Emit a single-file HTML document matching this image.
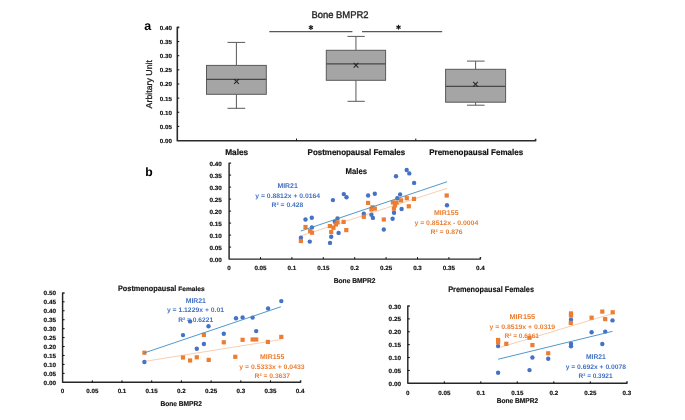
<!DOCTYPE html>
<html><head><meta charset="utf-8"><title>Bone BMPR2</title>
<style>
html,body{margin:0;padding:0;background:#fff;}
body{width:685px;height:420px;overflow:hidden;}
svg{display:block;font-family:"Liberation Sans", sans-serif;filter:blur(0.45px);text-rendering:geometricPrecision;}
</style></head>
<body>
<svg width="685" height="420" viewBox="0 0 685 420">
<rect width="685" height="420" fill="#fff"/>
<text x="144.2" y="29.9" font-size="12.5" font-weight="bold" fill="#000" text-anchor="start">a</text>
<text x="311.4" y="18.2" font-size="9.7" stroke="#262626" stroke-width="0.35" fill="#262626" text-anchor="start" textLength="57.2" lengthAdjust="spacingAndGlyphs">Bone BMPR2</text>
<path d="M179.3 27.4 L177.3 27.4 L177.3 140.7 L535.6 140.7 L535.6 138.7" fill="none" stroke="#2b2b2b" stroke-width="1.6" stroke-linejoin="round"/>
<text x="171.9" y="142.9" font-size="5.9" font-weight="bold" stroke="#111" stroke-width="0.15" fill="#111" text-anchor="end" textLength="12.2" lengthAdjust="spacingAndGlyphs">0.00</text>
<line x1="177.3" y1="126.37" x2="179.3" y2="126.37" stroke="#0d0d0d" stroke-width="1"/>
<text x="171.9" y="128.77" font-size="5.9" font-weight="bold" stroke="#111" stroke-width="0.15" fill="#111" text-anchor="end" textLength="12.2" lengthAdjust="spacingAndGlyphs">0.05</text>
<line x1="177.3" y1="112.24" x2="179.3" y2="112.24" stroke="#0d0d0d" stroke-width="1"/>
<text x="171.9" y="114.64" font-size="5.9" font-weight="bold" stroke="#111" stroke-width="0.15" fill="#111" text-anchor="end" textLength="12.2" lengthAdjust="spacingAndGlyphs">0.10</text>
<line x1="177.3" y1="98.11" x2="179.3" y2="98.11" stroke="#0d0d0d" stroke-width="1"/>
<text x="171.9" y="100.51" font-size="5.9" font-weight="bold" stroke="#111" stroke-width="0.15" fill="#111" text-anchor="end" textLength="12.2" lengthAdjust="spacingAndGlyphs">0.15</text>
<line x1="177.3" y1="83.97999999999999" x2="179.3" y2="83.97999999999999" stroke="#0d0d0d" stroke-width="1"/>
<text x="171.9" y="86.38" font-size="5.9" font-weight="bold" stroke="#111" stroke-width="0.15" fill="#111" text-anchor="end" textLength="12.2" lengthAdjust="spacingAndGlyphs">0.20</text>
<line x1="177.3" y1="69.85" x2="179.3" y2="69.85" stroke="#0d0d0d" stroke-width="1"/>
<text x="171.9" y="72.25" font-size="5.9" font-weight="bold" stroke="#111" stroke-width="0.15" fill="#111" text-anchor="end" textLength="12.2" lengthAdjust="spacingAndGlyphs">0.25</text>
<line x1="177.3" y1="55.72" x2="179.3" y2="55.72" stroke="#0d0d0d" stroke-width="1"/>
<text x="171.9" y="58.12" font-size="5.9" font-weight="bold" stroke="#111" stroke-width="0.15" fill="#111" text-anchor="end" textLength="12.2" lengthAdjust="spacingAndGlyphs">0.30</text>
<line x1="177.3" y1="41.58999999999999" x2="179.3" y2="41.58999999999999" stroke="#0d0d0d" stroke-width="1"/>
<text x="171.9" y="43.98999999999999" font-size="5.9" font-weight="bold" stroke="#111" stroke-width="0.15" fill="#111" text-anchor="end" textLength="12.2" lengthAdjust="spacingAndGlyphs">0.35</text>
<text x="171.9" y="29.859999999999992" font-size="5.9" font-weight="bold" stroke="#111" stroke-width="0.15" fill="#111" text-anchor="end" textLength="12.2" lengthAdjust="spacingAndGlyphs">0.40</text>
<line x1="296.5" y1="140.7" x2="296.5" y2="138.6" stroke="#0d0d0d" stroke-width="1"/>
<line x1="415.8" y1="140.7" x2="415.8" y2="138.6" stroke="#0d0d0d" stroke-width="1"/>
<text transform="translate(152.0,84.2) rotate(-90)" font-size="8.6" fill="#222222" stroke="#222222" stroke-width="0.3" text-anchor="middle" textLength="48.4" lengthAdjust="spacingAndGlyphs">Arbitary Unit</text>
<text x="225.2" y="154.8" font-size="8.4" font-weight="bold" stroke="#111" stroke-width="0.2" fill="#111" text-anchor="start" textLength="23.0" lengthAdjust="spacingAndGlyphs">Males</text>
<text x="307.6" y="154.8" font-size="8.4" font-weight="bold" stroke="#111" stroke-width="0.2" fill="#111" text-anchor="start" textLength="97.6" lengthAdjust="spacingAndGlyphs">Postmenopausal Females</text>
<text x="429.2" y="154.8" font-size="8.4" font-weight="bold" stroke="#111" stroke-width="0.2" fill="#111" text-anchor="start" textLength="93.9" lengthAdjust="spacingAndGlyphs">Premenopausal Females</text>
<line x1="269.3" y1="31.7" x2="352.4" y2="31.7" stroke="#595959" stroke-width="1.3"/>
<line x1="362.0" y1="31.7" x2="442.2" y2="31.7" stroke="#595959" stroke-width="1.3"/>
<line x1="310.9" y1="25.1" x2="310.9" y2="29.9" stroke="#1a1a1a" stroke-width="1.15"/>
<line x1="308.82" y1="26.3" x2="312.98" y2="28.7" stroke="#1a1a1a" stroke-width="1.15"/>
<line x1="312.98" y1="26.3" x2="308.82" y2="28.7" stroke="#1a1a1a" stroke-width="1.15"/>
<line x1="398.5" y1="24.8" x2="398.5" y2="29.6" stroke="#1a1a1a" stroke-width="1.15"/>
<line x1="396.42" y1="26.0" x2="400.58" y2="28.4" stroke="#1a1a1a" stroke-width="1.15"/>
<line x1="400.58" y1="26.0" x2="396.42" y2="28.4" stroke="#1a1a1a" stroke-width="1.15"/>
<line x1="236.4" y1="42.4" x2="236.4" y2="65.4" stroke="#595959" stroke-width="1"/>
<line x1="236.4" y1="94.3" x2="236.4" y2="108.3" stroke="#595959" stroke-width="1"/>
<line x1="227.5" y1="42.4" x2="245.2" y2="42.4" stroke="#595959" stroke-width="1"/>
<line x1="227.5" y1="108.3" x2="245.2" y2="108.3" stroke="#595959" stroke-width="1"/>
<rect x="206.5" y="65.4" width="59.80000000000001" height="28.89999999999999" fill="#A5A5A5" stroke="#595959" stroke-width="1"/>
<line x1="206.5" y1="79.3" x2="266.3" y2="79.3" stroke="#484848" stroke-width="1.15"/>
<line x1="234.15" y1="79.15" x2="238.85" y2="83.85" stroke="#262626" stroke-width="1.05"/>
<line x1="234.15" y1="83.85" x2="238.85" y2="79.15" stroke="#262626" stroke-width="1.05"/>
<line x1="355.95000000000005" y1="36.4" x2="355.95000000000005" y2="50.3" stroke="#595959" stroke-width="1"/>
<line x1="355.95000000000005" y1="80.3" x2="355.95000000000005" y2="101.3" stroke="#595959" stroke-width="1"/>
<line x1="347.5" y1="36.4" x2="364.8" y2="36.4" stroke="#595959" stroke-width="1"/>
<line x1="347.5" y1="101.3" x2="364.8" y2="101.3" stroke="#595959" stroke-width="1"/>
<rect x="326.3" y="50.3" width="59.30000000000001" height="30.0" fill="#A5A5A5" stroke="#595959" stroke-width="1"/>
<line x1="326.3" y1="63.8" x2="385.6" y2="63.8" stroke="#484848" stroke-width="1.15"/>
<line x1="353.65" y1="62.949999999999996" x2="358.35" y2="67.64999999999999" stroke="#262626" stroke-width="1.05"/>
<line x1="353.65" y1="67.64999999999999" x2="358.35" y2="62.949999999999996" stroke="#262626" stroke-width="1.05"/>
<line x1="475.6" y1="61.1" x2="475.6" y2="69.3" stroke="#595959" stroke-width="1"/>
<line x1="475.6" y1="102.2" x2="475.6" y2="105.2" stroke="#595959" stroke-width="1"/>
<line x1="467.0" y1="61.1" x2="484.6" y2="61.1" stroke="#595959" stroke-width="1"/>
<line x1="467.0" y1="105.2" x2="484.6" y2="105.2" stroke="#595959" stroke-width="1"/>
<rect x="445.6" y="69.3" width="60.0" height="32.900000000000006" fill="#A5A5A5" stroke="#595959" stroke-width="1"/>
<line x1="445.6" y1="86.4" x2="505.6" y2="86.4" stroke="#484848" stroke-width="1.15"/>
<line x1="473.15" y1="81.95" x2="477.85" y2="86.64999999999999" stroke="#262626" stroke-width="1.05"/>
<line x1="473.15" y1="86.64999999999999" x2="477.85" y2="81.95" stroke="#262626" stroke-width="1.05"/>
<text x="145.2" y="175.6" font-size="12.2" font-weight="bold" fill="#000" text-anchor="start">b</text>
<path d="M231.1 163.1 L229.1 163.1 L229.1 259.1 L480.4 259.1 L480.4 257.1" fill="none" stroke="#262626" stroke-width="1.45" stroke-linejoin="round"/>
<text x="221.9" y="261.6" font-size="6.0" font-weight="bold" stroke="#111" stroke-width="0.15" fill="#111" text-anchor="end" textLength="12.4" lengthAdjust="spacingAndGlyphs">0.00</text>
<line x1="229.1" y1="247.10000000000002" x2="231.1" y2="247.10000000000002" stroke="#0d0d0d" stroke-width="1"/>
<text x="221.9" y="249.60000000000002" font-size="6.0" font-weight="bold" stroke="#111" stroke-width="0.15" fill="#111" text-anchor="end" textLength="12.4" lengthAdjust="spacingAndGlyphs">0.05</text>
<line x1="229.1" y1="235.10000000000002" x2="231.1" y2="235.10000000000002" stroke="#0d0d0d" stroke-width="1"/>
<text x="221.9" y="237.60000000000002" font-size="6.0" font-weight="bold" stroke="#111" stroke-width="0.15" fill="#111" text-anchor="end" textLength="12.4" lengthAdjust="spacingAndGlyphs">0.10</text>
<line x1="229.1" y1="223.10000000000002" x2="231.1" y2="223.10000000000002" stroke="#0d0d0d" stroke-width="1"/>
<text x="221.9" y="225.60000000000002" font-size="6.0" font-weight="bold" stroke="#111" stroke-width="0.15" fill="#111" text-anchor="end" textLength="12.4" lengthAdjust="spacingAndGlyphs">0.15</text>
<line x1="229.1" y1="211.10000000000002" x2="231.1" y2="211.10000000000002" stroke="#0d0d0d" stroke-width="1"/>
<text x="221.9" y="213.60000000000002" font-size="6.0" font-weight="bold" stroke="#111" stroke-width="0.15" fill="#111" text-anchor="end" textLength="12.4" lengthAdjust="spacingAndGlyphs">0.20</text>
<line x1="229.1" y1="199.10000000000002" x2="231.1" y2="199.10000000000002" stroke="#0d0d0d" stroke-width="1"/>
<text x="221.9" y="201.60000000000002" font-size="6.0" font-weight="bold" stroke="#111" stroke-width="0.15" fill="#111" text-anchor="end" textLength="12.4" lengthAdjust="spacingAndGlyphs">0.25</text>
<line x1="229.1" y1="187.10000000000002" x2="231.1" y2="187.10000000000002" stroke="#0d0d0d" stroke-width="1"/>
<text x="221.9" y="189.60000000000002" font-size="6.0" font-weight="bold" stroke="#111" stroke-width="0.15" fill="#111" text-anchor="end" textLength="12.4" lengthAdjust="spacingAndGlyphs">0.30</text>
<line x1="229.1" y1="175.10000000000002" x2="231.1" y2="175.10000000000002" stroke="#0d0d0d" stroke-width="1"/>
<text x="221.9" y="177.60000000000002" font-size="6.0" font-weight="bold" stroke="#111" stroke-width="0.15" fill="#111" text-anchor="end" textLength="12.4" lengthAdjust="spacingAndGlyphs">0.35</text>
<text x="221.9" y="165.60000000000002" font-size="6.0" font-weight="bold" stroke="#111" stroke-width="0.15" fill="#111" text-anchor="end" textLength="12.4" lengthAdjust="spacingAndGlyphs">0.40</text>
<text x="229.1" y="270.3" font-size="6.0" font-weight="bold" stroke="#111" stroke-width="0.15" fill="#111" text-anchor="middle" textLength="3.47" lengthAdjust="spacingAndGlyphs">0</text>
<line x1="260.5" y1="259.1" x2="260.5" y2="257.1" stroke="#0d0d0d" stroke-width="1"/>
<text x="260.5" y="270.3" font-size="6.0" font-weight="bold" stroke="#111" stroke-width="0.15" fill="#111" text-anchor="middle" textLength="12.14" lengthAdjust="spacingAndGlyphs">0.05</text>
<line x1="291.9" y1="259.1" x2="291.9" y2="257.1" stroke="#0d0d0d" stroke-width="1"/>
<text x="291.9" y="270.3" font-size="6.0" font-weight="bold" stroke="#111" stroke-width="0.15" fill="#111" text-anchor="middle" textLength="8.67" lengthAdjust="spacingAndGlyphs">0.1</text>
<line x1="323.29999999999995" y1="259.1" x2="323.29999999999995" y2="257.1" stroke="#0d0d0d" stroke-width="1"/>
<text x="323.29999999999995" y="270.3" font-size="6.0" font-weight="bold" stroke="#111" stroke-width="0.15" fill="#111" text-anchor="middle" textLength="12.14" lengthAdjust="spacingAndGlyphs">0.15</text>
<line x1="354.7" y1="259.1" x2="354.7" y2="257.1" stroke="#0d0d0d" stroke-width="1"/>
<text x="354.7" y="270.3" font-size="6.0" font-weight="bold" stroke="#111" stroke-width="0.15" fill="#111" text-anchor="middle" textLength="8.67" lengthAdjust="spacingAndGlyphs">0.2</text>
<line x1="386.1" y1="259.1" x2="386.1" y2="257.1" stroke="#0d0d0d" stroke-width="1"/>
<text x="386.1" y="270.3" font-size="6.0" font-weight="bold" stroke="#111" stroke-width="0.15" fill="#111" text-anchor="middle" textLength="12.14" lengthAdjust="spacingAndGlyphs">0.25</text>
<line x1="417.5" y1="259.1" x2="417.5" y2="257.1" stroke="#0d0d0d" stroke-width="1"/>
<text x="417.5" y="270.3" font-size="6.0" font-weight="bold" stroke="#111" stroke-width="0.15" fill="#111" text-anchor="middle" textLength="8.67" lengthAdjust="spacingAndGlyphs">0.3</text>
<line x1="448.9" y1="259.1" x2="448.9" y2="257.1" stroke="#0d0d0d" stroke-width="1"/>
<text x="448.9" y="270.3" font-size="6.0" font-weight="bold" stroke="#111" stroke-width="0.15" fill="#111" text-anchor="middle" textLength="12.14" lengthAdjust="spacingAndGlyphs">0.35</text>
<text x="480.29999999999995" y="270.3" font-size="6.0" font-weight="bold" stroke="#111" stroke-width="0.15" fill="#111" text-anchor="middle" textLength="8.67" lengthAdjust="spacingAndGlyphs">0.4</text>
<text x="345.6" y="174.2" font-size="8.2" font-weight="bold" stroke="#111" stroke-width="0.15" fill="#111" text-anchor="start" textLength="21.5" lengthAdjust="spacingAndGlyphs">Males</text>
<text x="333.7" y="282.5" font-size="7.0" font-weight="bold" stroke="#111" stroke-width="0.15" fill="#111" text-anchor="start" textLength="41.8" lengthAdjust="spacingAndGlyphs">Bone BMPR2</text>
<circle cx="300.9" cy="237.8" r="2.2" fill="#4472C4"/>
<circle cx="305.5" cy="219.5" r="2.2" fill="#4472C4"/>
<circle cx="311.8" cy="217.8" r="2.2" fill="#4472C4"/>
<circle cx="311.9" cy="227.4" r="2.2" fill="#4472C4"/>
<circle cx="309.8" cy="241.6" r="2.2" fill="#4472C4"/>
<circle cx="337.5" cy="218.4" r="2.2" fill="#4472C4"/>
<circle cx="334.8" cy="221.8" r="2.2" fill="#4472C4"/>
<circle cx="338.6" cy="232.9" r="2.2" fill="#4472C4"/>
<circle cx="331.2" cy="236.7" r="2.2" fill="#4472C4"/>
<circle cx="330" cy="242.9" r="2.2" fill="#4472C4"/>
<circle cx="332.9" cy="200.1" r="2.2" fill="#4472C4"/>
<circle cx="343.8" cy="194.1" r="2.2" fill="#4472C4"/>
<circle cx="346.5" cy="197.3" r="2.2" fill="#4472C4"/>
<circle cx="368.1" cy="195.5" r="2.2" fill="#4472C4"/>
<circle cx="374.8" cy="193.8" r="2.2" fill="#4472C4"/>
<circle cx="363.8" cy="213.8" r="2.2" fill="#4472C4"/>
<circle cx="371.4" cy="214.8" r="2.2" fill="#4472C4"/>
<circle cx="372.9" cy="217.9" r="2.2" fill="#4472C4"/>
<circle cx="383.8" cy="229.5" r="2.2" fill="#4472C4"/>
<circle cx="392.6" cy="218.8" r="2.2" fill="#4472C4"/>
<circle cx="394.0" cy="212.8" r="2.2" fill="#4472C4"/>
<circle cx="401.6" cy="209.0" r="2.2" fill="#4472C4"/>
<circle cx="400.1" cy="194.4" r="2.2" fill="#4472C4"/>
<circle cx="397.3" cy="198.2" r="2.2" fill="#4472C4"/>
<circle cx="396.0" cy="176.3" r="2.2" fill="#4472C4"/>
<circle cx="406.7" cy="170.0" r="2.2" fill="#4472C4"/>
<circle cx="409.3" cy="173.4" r="2.2" fill="#4472C4"/>
<circle cx="414.1" cy="182.9" r="2.2" fill="#4472C4"/>
<circle cx="447.0" cy="205.3" r="2.2" fill="#4472C4"/>
<rect x="298.79999999999995" y="238.9" width="4.2" height="4.2" fill="#ED7D31"/>
<rect x="303.4" y="224.9" width="4.2" height="4.2" fill="#ED7D31"/>
<rect x="308.09999999999997" y="229.0" width="4.2" height="4.2" fill="#ED7D31"/>
<rect x="309.9" y="230.6" width="4.2" height="4.2" fill="#ED7D31"/>
<rect x="327.79999999999995" y="224.0" width="4.2" height="4.2" fill="#ED7D31"/>
<rect x="331.29999999999995" y="225.70000000000002" width="4.2" height="4.2" fill="#ED7D31"/>
<rect x="329.09999999999997" y="229.9" width="4.2" height="4.2" fill="#ED7D31"/>
<rect x="335.4" y="220.3" width="4.2" height="4.2" fill="#ED7D31"/>
<rect x="333.79999999999995" y="222.4" width="4.2" height="4.2" fill="#ED7D31"/>
<rect x="341.5" y="219.8" width="4.2" height="4.2" fill="#ED7D31"/>
<rect x="344.2" y="228.0" width="4.2" height="4.2" fill="#ED7D31"/>
<rect x="361.7" y="214.70000000000002" width="4.2" height="4.2" fill="#ED7D31"/>
<rect x="366.0" y="200.8" width="4.2" height="4.2" fill="#ED7D31"/>
<rect x="370.29999999999995" y="205.20000000000002" width="4.2" height="4.2" fill="#ED7D31"/>
<rect x="372.7" y="206.5" width="4.2" height="4.2" fill="#ED7D31"/>
<rect x="369.29999999999995" y="207.4" width="4.2" height="4.2" fill="#ED7D31"/>
<rect x="381.7" y="217.4" width="4.2" height="4.2" fill="#ED7D31"/>
<rect x="390.79999999999995" y="200.3" width="4.2" height="4.2" fill="#ED7D31"/>
<rect x="394.5" y="200.5" width="4.2" height="4.2" fill="#ED7D31"/>
<rect x="399.0" y="198.3" width="4.2" height="4.2" fill="#ED7D31"/>
<rect x="392.9" y="203.3" width="4.2" height="4.2" fill="#ED7D31"/>
<rect x="391.79999999999995" y="206.5" width="4.2" height="4.2" fill="#ED7D31"/>
<rect x="404.7" y="196.1" width="4.2" height="4.2" fill="#ED7D31"/>
<rect x="411.9" y="196.8" width="4.2" height="4.2" fill="#ED7D31"/>
<rect x="406.7" y="204.20000000000002" width="4.2" height="4.2" fill="#ED7D31"/>
<rect x="444.59999999999997" y="193.4" width="4.2" height="4.2" fill="#ED7D31"/>
<line x1="300.69" y1="231.05" x2="447.02" y2="181.78" stroke="#3E8CC4" stroke-width="0.9" stroke-opacity="1"/>
<line x1="300.69" y1="235.91" x2="447.02" y2="188.31" stroke="#ED7D31" stroke-width="0.75" stroke-opacity="0.5"/>
<text x="287.6" y="188.1" font-size="6.8" font-weight="bold" fill="#4472C4" text-anchor="middle" textLength="20.4" lengthAdjust="spacingAndGlyphs">MIR21</text>
<text x="255.3" y="197.8" font-size="6.6" font-weight="bold" fill="#4472C4" text-anchor="start" textLength="64.8" lengthAdjust="spacingAndGlyphs">y = 0.8812x + 0.0164</text>
<text x="271.6" y="207.1" font-size="6.6" font-weight="bold" fill="#4472C4" text-anchor="start" textLength="31.8" lengthAdjust="spacingAndGlyphs">R² = 0.428</text>
<text x="446.3" y="214.8" font-size="6.8" font-weight="bold" fill="#ED7D31" text-anchor="middle" textLength="24.5" lengthAdjust="spacingAndGlyphs">MIR155</text>
<text x="414.4" y="224.5" font-size="6.6" font-weight="bold" fill="#ED7D31" text-anchor="start" textLength="63.9" lengthAdjust="spacingAndGlyphs">y = 0.8512x - 0.0004</text>
<text x="430.5" y="233.6" font-size="6.6" font-weight="bold" fill="#ED7D31" text-anchor="start" textLength="32.0" lengthAdjust="spacingAndGlyphs">R² = 0.876</text>
<path d="M64.6 292.9 L62.6 292.9 L62.6 382.3 L300.6 382.3 L300.6 380.3" fill="none" stroke="#262626" stroke-width="1.45" stroke-linejoin="round"/>
<text x="56.0" y="384.8" font-size="6.0" font-weight="bold" stroke="#111" stroke-width="0.15" fill="#111" text-anchor="end" textLength="12.4" lengthAdjust="spacingAndGlyphs">0.00</text>
<line x1="62.6" y1="373.36" x2="64.6" y2="373.36" stroke="#0d0d0d" stroke-width="1"/>
<text x="56.0" y="375.86" font-size="6.0" font-weight="bold" stroke="#111" stroke-width="0.15" fill="#111" text-anchor="end" textLength="12.4" lengthAdjust="spacingAndGlyphs">0.05</text>
<line x1="62.6" y1="364.42" x2="64.6" y2="364.42" stroke="#0d0d0d" stroke-width="1"/>
<text x="56.0" y="366.92" font-size="6.0" font-weight="bold" stroke="#111" stroke-width="0.15" fill="#111" text-anchor="end" textLength="12.4" lengthAdjust="spacingAndGlyphs">0.10</text>
<line x1="62.6" y1="355.48" x2="64.6" y2="355.48" stroke="#0d0d0d" stroke-width="1"/>
<text x="56.0" y="357.98" font-size="6.0" font-weight="bold" stroke="#111" stroke-width="0.15" fill="#111" text-anchor="end" textLength="12.4" lengthAdjust="spacingAndGlyphs">0.15</text>
<line x1="62.6" y1="346.54" x2="64.6" y2="346.54" stroke="#0d0d0d" stroke-width="1"/>
<text x="56.0" y="349.04" font-size="6.0" font-weight="bold" stroke="#111" stroke-width="0.15" fill="#111" text-anchor="end" textLength="12.4" lengthAdjust="spacingAndGlyphs">0.20</text>
<line x1="62.6" y1="337.6" x2="64.6" y2="337.6" stroke="#0d0d0d" stroke-width="1"/>
<text x="56.0" y="340.1" font-size="6.0" font-weight="bold" stroke="#111" stroke-width="0.15" fill="#111" text-anchor="end" textLength="12.4" lengthAdjust="spacingAndGlyphs">0.25</text>
<line x1="62.6" y1="328.66" x2="64.6" y2="328.66" stroke="#0d0d0d" stroke-width="1"/>
<text x="56.0" y="331.16" font-size="6.0" font-weight="bold" stroke="#111" stroke-width="0.15" fill="#111" text-anchor="end" textLength="12.4" lengthAdjust="spacingAndGlyphs">0.30</text>
<line x1="62.6" y1="319.72" x2="64.6" y2="319.72" stroke="#0d0d0d" stroke-width="1"/>
<text x="56.0" y="322.22" font-size="6.0" font-weight="bold" stroke="#111" stroke-width="0.15" fill="#111" text-anchor="end" textLength="12.4" lengthAdjust="spacingAndGlyphs">0.35</text>
<line x1="62.6" y1="310.78000000000003" x2="64.6" y2="310.78000000000003" stroke="#0d0d0d" stroke-width="1"/>
<text x="56.0" y="313.28000000000003" font-size="6.0" font-weight="bold" stroke="#111" stroke-width="0.15" fill="#111" text-anchor="end" textLength="12.4" lengthAdjust="spacingAndGlyphs">0.40</text>
<line x1="62.6" y1="301.84000000000003" x2="64.6" y2="301.84000000000003" stroke="#0d0d0d" stroke-width="1"/>
<text x="56.0" y="304.34000000000003" font-size="6.0" font-weight="bold" stroke="#111" stroke-width="0.15" fill="#111" text-anchor="end" textLength="12.4" lengthAdjust="spacingAndGlyphs">0.45</text>
<text x="56.0" y="295.40000000000003" font-size="6.0" font-weight="bold" stroke="#111" stroke-width="0.15" fill="#111" text-anchor="end" textLength="12.4" lengthAdjust="spacingAndGlyphs">0.50</text>
<text x="62.6" y="393.1" font-size="6.0" font-weight="bold" stroke="#111" stroke-width="0.15" fill="#111" text-anchor="middle" textLength="3.47" lengthAdjust="spacingAndGlyphs">0</text>
<line x1="92.3" y1="382.3" x2="92.3" y2="380.3" stroke="#0d0d0d" stroke-width="1"/>
<text x="92.3" y="393.1" font-size="6.0" font-weight="bold" stroke="#111" stroke-width="0.15" fill="#111" text-anchor="middle" textLength="12.14" lengthAdjust="spacingAndGlyphs">0.05</text>
<line x1="122.0" y1="382.3" x2="122.0" y2="380.3" stroke="#0d0d0d" stroke-width="1"/>
<text x="122.0" y="393.1" font-size="6.0" font-weight="bold" stroke="#111" stroke-width="0.15" fill="#111" text-anchor="middle" textLength="8.67" lengthAdjust="spacingAndGlyphs">0.1</text>
<line x1="151.7" y1="382.3" x2="151.7" y2="380.3" stroke="#0d0d0d" stroke-width="1"/>
<text x="151.7" y="393.1" font-size="6.0" font-weight="bold" stroke="#111" stroke-width="0.15" fill="#111" text-anchor="middle" textLength="12.14" lengthAdjust="spacingAndGlyphs">0.15</text>
<line x1="181.4" y1="382.3" x2="181.4" y2="380.3" stroke="#0d0d0d" stroke-width="1"/>
<text x="181.4" y="393.1" font-size="6.0" font-weight="bold" stroke="#111" stroke-width="0.15" fill="#111" text-anchor="middle" textLength="8.67" lengthAdjust="spacingAndGlyphs">0.2</text>
<line x1="211.1" y1="382.3" x2="211.1" y2="380.3" stroke="#0d0d0d" stroke-width="1"/>
<text x="211.1" y="393.1" font-size="6.0" font-weight="bold" stroke="#111" stroke-width="0.15" fill="#111" text-anchor="middle" textLength="12.14" lengthAdjust="spacingAndGlyphs">0.25</text>
<line x1="240.79999999999998" y1="382.3" x2="240.79999999999998" y2="380.3" stroke="#0d0d0d" stroke-width="1"/>
<text x="240.79999999999998" y="393.1" font-size="6.0" font-weight="bold" stroke="#111" stroke-width="0.15" fill="#111" text-anchor="middle" textLength="8.67" lengthAdjust="spacingAndGlyphs">0.3</text>
<line x1="270.5" y1="382.3" x2="270.5" y2="380.3" stroke="#0d0d0d" stroke-width="1"/>
<text x="270.5" y="393.1" font-size="6.0" font-weight="bold" stroke="#111" stroke-width="0.15" fill="#111" text-anchor="middle" textLength="12.14" lengthAdjust="spacingAndGlyphs">0.35</text>
<text x="300.2" y="393.1" font-size="6.0" font-weight="bold" stroke="#111" stroke-width="0.15" fill="#111" text-anchor="middle" textLength="8.67" lengthAdjust="spacingAndGlyphs">0.4</text>
<text x="118.0" y="291.4" font-size="7.8" font-weight="bold" stroke="#111" stroke-width="0.15" fill="#111" text-anchor="start" textLength="58.4" lengthAdjust="spacingAndGlyphs">Postmenopausal</text>
<text x="178.2" y="291.4" font-size="6.3" font-weight="bold" stroke="#111" stroke-width="0.15" fill="#111" text-anchor="start" textLength="26.4" lengthAdjust="spacingAndGlyphs">Females</text>
<text x="160.4" y="405.9" font-size="7.0" font-weight="bold" stroke="#111" stroke-width="0.15" fill="#111" text-anchor="start" textLength="41.6" lengthAdjust="spacingAndGlyphs">Bone BMPR2</text>
<circle cx="144.4" cy="362.0" r="2.2" fill="#4472C4"/>
<circle cx="183.0" cy="335.1" r="2.2" fill="#4472C4"/>
<circle cx="190.1" cy="321.4" r="2.2" fill="#4472C4"/>
<circle cx="208.5" cy="326.2" r="2.2" fill="#4472C4"/>
<circle cx="223.8" cy="333.7" r="2.2" fill="#4472C4"/>
<circle cx="203.9" cy="344.0" r="2.2" fill="#4472C4"/>
<circle cx="196.8" cy="348.8" r="2.2" fill="#4472C4"/>
<circle cx="236.0" cy="318.3" r="2.2" fill="#4472C4"/>
<circle cx="242.6" cy="317.4" r="2.2" fill="#4472C4"/>
<circle cx="252.6" cy="317.6" r="2.2" fill="#4472C4"/>
<circle cx="256.2" cy="331.1" r="2.2" fill="#4472C4"/>
<circle cx="268.1" cy="308.5" r="2.2" fill="#4472C4"/>
<circle cx="281.3" cy="301.1" r="2.2" fill="#4472C4"/>
<rect x="142.3" y="350.59999999999997" width="4.2" height="4.2" fill="#ED7D31"/>
<rect x="180.9" y="355.4" width="4.2" height="4.2" fill="#ED7D31"/>
<rect x="188.0" y="358.4" width="4.2" height="4.2" fill="#ED7D31"/>
<rect x="194.70000000000002" y="355.2" width="4.2" height="4.2" fill="#ED7D31"/>
<rect x="201.8" y="332.79999999999995" width="4.2" height="4.2" fill="#ED7D31"/>
<rect x="206.6" y="357.79999999999995" width="4.2" height="4.2" fill="#ED7D31"/>
<rect x="221.70000000000002" y="340.2" width="4.2" height="4.2" fill="#ED7D31"/>
<rect x="233.20000000000002" y="354.7" width="4.2" height="4.2" fill="#ED7D31"/>
<rect x="240.5" y="337.7" width="4.2" height="4.2" fill="#ED7D31"/>
<rect x="250.5" y="337.4" width="4.2" height="4.2" fill="#ED7D31"/>
<rect x="254.1" y="337.4" width="4.2" height="4.2" fill="#ED7D31"/>
<rect x="265.79999999999995" y="339.79999999999995" width="4.2" height="4.2" fill="#ED7D31"/>
<rect x="279.2" y="334.79999999999995" width="4.2" height="4.2" fill="#ED7D31"/>
<line x1="144.28" y1="352.92" x2="280.89" y2="306.77" stroke="#3E8CC4" stroke-width="0.9" stroke-opacity="1"/>
<line x1="144.28" y1="361.46" x2="280.89" y2="339.54" stroke="#ED7D31" stroke-width="0.75" stroke-opacity="0.5"/>
<text x="195.8" y="302.7" font-size="6.8" font-weight="bold" fill="#4472C4" text-anchor="middle" textLength="20.3" lengthAdjust="spacingAndGlyphs">MIR21</text>
<text x="166.9" y="312.0" font-size="6.6" font-weight="bold" fill="#4472C4" text-anchor="start" textLength="57.1" lengthAdjust="spacingAndGlyphs">y = 1.1229x + 0.01</text>
<text x="178.2" y="321.9" font-size="6.6" font-weight="bold" fill="#4472C4" text-anchor="start" textLength="34.9" lengthAdjust="spacingAndGlyphs">R² = 0.6221</text>
<text x="272.2" y="359.4" font-size="6.8" font-weight="bold" fill="#ED7D31" text-anchor="middle" textLength="24.3" lengthAdjust="spacingAndGlyphs">MIR155</text>
<text x="239.3" y="368.6" font-size="6.6" font-weight="bold" fill="#ED7D31" text-anchor="start" textLength="65.3" lengthAdjust="spacingAndGlyphs">y = 0.5333x + 0.0433</text>
<text x="254.5" y="378.4" font-size="6.6" font-weight="bold" fill="#ED7D31" text-anchor="start" textLength="35.5" lengthAdjust="spacingAndGlyphs">R² = 0.3637</text>
<path d="M409.8 306.0 L407.8 306.0 L407.8 383.3 L627.0 383.3 L627.0 381.3" fill="none" stroke="#262626" stroke-width="1.45" stroke-linejoin="round"/>
<text x="401.0" y="385.8" font-size="6.0" font-weight="bold" stroke="#111" stroke-width="0.15" fill="#111" text-anchor="end" textLength="12.4" lengthAdjust="spacingAndGlyphs">0.00</text>
<line x1="407.8" y1="370.42" x2="409.8" y2="370.42" stroke="#0d0d0d" stroke-width="1"/>
<text x="401.0" y="372.92" font-size="6.0" font-weight="bold" stroke="#111" stroke-width="0.15" fill="#111" text-anchor="end" textLength="12.4" lengthAdjust="spacingAndGlyphs">0.05</text>
<line x1="407.8" y1="357.54" x2="409.8" y2="357.54" stroke="#0d0d0d" stroke-width="1"/>
<text x="401.0" y="360.04" font-size="6.0" font-weight="bold" stroke="#111" stroke-width="0.15" fill="#111" text-anchor="end" textLength="12.4" lengthAdjust="spacingAndGlyphs">0.10</text>
<line x1="407.8" y1="344.66" x2="409.8" y2="344.66" stroke="#0d0d0d" stroke-width="1"/>
<text x="401.0" y="347.16" font-size="6.0" font-weight="bold" stroke="#111" stroke-width="0.15" fill="#111" text-anchor="end" textLength="12.4" lengthAdjust="spacingAndGlyphs">0.15</text>
<line x1="407.8" y1="331.78000000000003" x2="409.8" y2="331.78000000000003" stroke="#0d0d0d" stroke-width="1"/>
<text x="401.0" y="334.28000000000003" font-size="6.0" font-weight="bold" stroke="#111" stroke-width="0.15" fill="#111" text-anchor="end" textLength="12.4" lengthAdjust="spacingAndGlyphs">0.20</text>
<line x1="407.8" y1="318.9" x2="409.8" y2="318.9" stroke="#0d0d0d" stroke-width="1"/>
<text x="401.0" y="321.4" font-size="6.0" font-weight="bold" stroke="#111" stroke-width="0.15" fill="#111" text-anchor="end" textLength="12.4" lengthAdjust="spacingAndGlyphs">0.25</text>
<text x="401.0" y="308.52" font-size="6.0" font-weight="bold" stroke="#111" stroke-width="0.15" fill="#111" text-anchor="end" textLength="12.4" lengthAdjust="spacingAndGlyphs">0.30</text>
<text x="407.8" y="395.1" font-size="6.0" font-weight="bold" stroke="#111" stroke-width="0.15" fill="#111" text-anchor="middle" textLength="3.47" lengthAdjust="spacingAndGlyphs">0</text>
<line x1="444.3" y1="383.3" x2="444.3" y2="381.3" stroke="#0d0d0d" stroke-width="1"/>
<text x="444.3" y="395.1" font-size="6.0" font-weight="bold" stroke="#111" stroke-width="0.15" fill="#111" text-anchor="middle" textLength="12.14" lengthAdjust="spacingAndGlyphs">0.05</text>
<line x1="480.8" y1="383.3" x2="480.8" y2="381.3" stroke="#0d0d0d" stroke-width="1"/>
<text x="480.8" y="395.1" font-size="6.0" font-weight="bold" stroke="#111" stroke-width="0.15" fill="#111" text-anchor="middle" textLength="8.67" lengthAdjust="spacingAndGlyphs">0.1</text>
<line x1="517.3" y1="383.3" x2="517.3" y2="381.3" stroke="#0d0d0d" stroke-width="1"/>
<text x="517.3" y="395.1" font-size="6.0" font-weight="bold" stroke="#111" stroke-width="0.15" fill="#111" text-anchor="middle" textLength="12.14" lengthAdjust="spacingAndGlyphs">0.15</text>
<line x1="553.8" y1="383.3" x2="553.8" y2="381.3" stroke="#0d0d0d" stroke-width="1"/>
<text x="553.8" y="395.1" font-size="6.0" font-weight="bold" stroke="#111" stroke-width="0.15" fill="#111" text-anchor="middle" textLength="8.67" lengthAdjust="spacingAndGlyphs">0.2</text>
<line x1="590.3" y1="383.3" x2="590.3" y2="381.3" stroke="#0d0d0d" stroke-width="1"/>
<text x="590.3" y="395.1" font-size="6.0" font-weight="bold" stroke="#111" stroke-width="0.15" fill="#111" text-anchor="middle" textLength="12.14" lengthAdjust="spacingAndGlyphs">0.25</text>
<text x="626.8" y="395.1" font-size="6.0" font-weight="bold" stroke="#111" stroke-width="0.15" fill="#111" text-anchor="middle" textLength="8.67" lengthAdjust="spacingAndGlyphs">0.3</text>
<text x="448.2" y="292.3" font-size="8.1" font-weight="bold" stroke="#111" stroke-width="0.15" fill="#111" text-anchor="start" textLength="85.8" lengthAdjust="spacingAndGlyphs">Premenopausal Females</text>
<text x="496.8" y="403.4" font-size="7.0" font-weight="bold" stroke="#111" stroke-width="0.15" fill="#111" text-anchor="start" textLength="41.3" lengthAdjust="spacingAndGlyphs">Bone BMPR2</text>
<circle cx="498.1" cy="346.1" r="2.2" fill="#4472C4"/>
<circle cx="532.4" cy="357.5" r="2.2" fill="#4472C4"/>
<circle cx="548.2" cy="358.7" r="2.2" fill="#4472C4"/>
<circle cx="498.1" cy="372.8" r="2.2" fill="#4472C4"/>
<circle cx="529.5" cy="370.1" r="2.2" fill="#4472C4"/>
<circle cx="571.0" cy="319.8" r="2.2" fill="#4472C4"/>
<circle cx="612.5" cy="320.4" r="2.2" fill="#4472C4"/>
<circle cx="591.6" cy="332.2" r="2.2" fill="#4472C4"/>
<circle cx="605.2" cy="331.6" r="2.2" fill="#4472C4"/>
<circle cx="571.0" cy="343.7" r="2.2" fill="#4472C4"/>
<circle cx="571.0" cy="346.3" r="2.2" fill="#4472C4"/>
<circle cx="602.3" cy="344.0" r="2.2" fill="#4472C4"/>
<rect x="496.0" y="337.9" width="4.2" height="4.2" fill="#ED7D31"/>
<rect x="496.0" y="340.2" width="4.2" height="4.2" fill="#ED7D31"/>
<rect x="504.2" y="341.7" width="4.2" height="4.2" fill="#ED7D31"/>
<rect x="527.4" y="335.59999999999997" width="4.2" height="4.2" fill="#ED7D31"/>
<rect x="530.3" y="343.0" width="4.2" height="4.2" fill="#ED7D31"/>
<rect x="546.1" y="351.2" width="4.2" height="4.2" fill="#ED7D31"/>
<rect x="568.9" y="311.29999999999995" width="4.2" height="4.2" fill="#ED7D31"/>
<rect x="568.9" y="313.4" width="4.2" height="4.2" fill="#ED7D31"/>
<rect x="568.6999999999999" y="320.9" width="4.2" height="4.2" fill="#ED7D31"/>
<rect x="589.5" y="315.59999999999997" width="4.2" height="4.2" fill="#ED7D31"/>
<rect x="600.1999999999999" y="309.5" width="4.2" height="4.2" fill="#ED7D31"/>
<rect x="603.1" y="317.0" width="4.2" height="4.2" fill="#ED7D31"/>
<rect x="610.6" y="310.2" width="4.2" height="4.2" fill="#ED7D31"/>
<line x1="498.1" y1="359.26" x2="612.49" y2="331.35" stroke="#3E8CC4" stroke-width="0.9" stroke-opacity="1"/>
<line x1="498.1" y1="347.96" x2="612.49" y2="313.6" stroke="#ED7D31" stroke-width="0.75" stroke-opacity="0.5"/>
<text x="522.3" y="319.2" font-size="6.8" font-weight="bold" fill="#ED7D31" text-anchor="middle" textLength="25.7" lengthAdjust="spacingAndGlyphs">MIR155</text>
<text x="489.5" y="329.1" font-size="6.6" font-weight="bold" fill="#ED7D31" text-anchor="start" textLength="65.7" lengthAdjust="spacingAndGlyphs">y = 0.8519x + 0.0319</text>
<text x="504.4" y="338.0" font-size="6.6" font-weight="bold" fill="#ED7D31" text-anchor="start" textLength="34.6" lengthAdjust="spacingAndGlyphs">R² = 0.6161</text>
<text x="595.9" y="359.2" font-size="6.8" font-weight="bold" fill="#4472C4" text-anchor="middle" textLength="19.8" lengthAdjust="spacingAndGlyphs">MIR21</text>
<text x="565.7" y="368.7" font-size="6.6" font-weight="bold" fill="#4472C4" text-anchor="start" textLength="60.3" lengthAdjust="spacingAndGlyphs">y = 0.692x + 0.0078</text>
<text x="578.5" y="377.6" font-size="6.6" font-weight="bold" fill="#4472C4" text-anchor="start" textLength="34.0" lengthAdjust="spacingAndGlyphs">R² = 0.3921</text>
</svg>
</body></html>
